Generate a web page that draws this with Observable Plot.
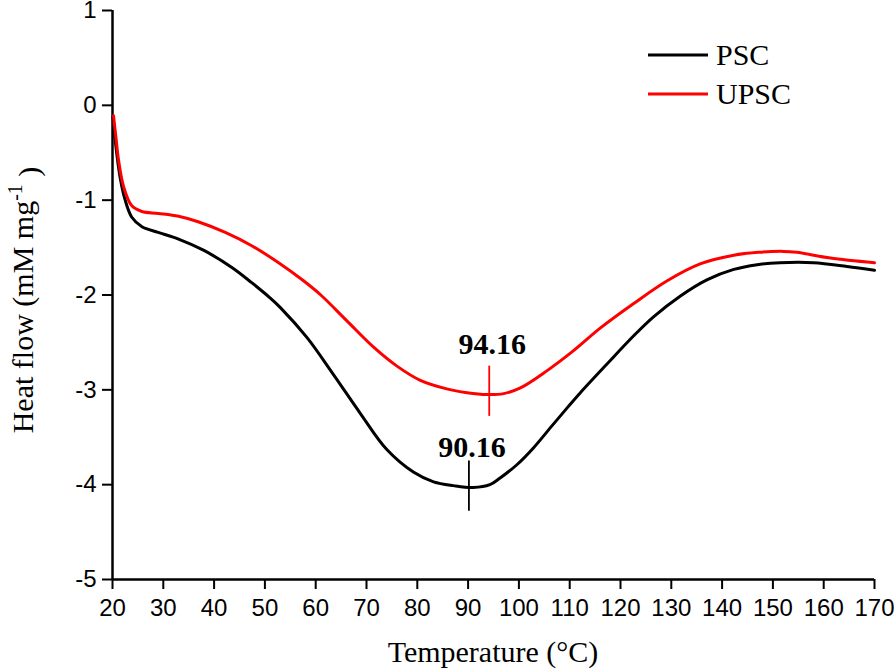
<!DOCTYPE html>
<html>
<head>
<meta charset="utf-8">
<script src="https://cdn.jsdelivr.net/npm/d3@7"></script>
<script src="https://cdn.jsdelivr.net/npm/@observablehq/plot@0.6"></script>
<style>
  html, body { margin: 0; padding: 0; background: #fff; }
  #chart { width: 894px; height: 670px; }
</style>
</head>
<body>
<div id="chart"></div>
<script>
// ---- Data ----
const xTicks = [20, 30, 40, 50, 60, 70, 80, 90, 100, 110, 120, 130, 140, 150, 160, 170];
const yTicks = [1, 0, -1, -2, -3, -4, -5];

const seriesNames = ["PSC", "UPSC"];
const seriesColors = ["#000000", "#ff0000"];

const pscTemp = [20.1, 20.6, 21.5, 22.5, 23.8, 25.8, 29, 33, 38, 43.5, 47.4, 51, 53, 58.3, 63.5, 68.8, 74, 79.3, 83.2, 87.1, 91, 94.3, 96.3, 99.6, 102.9, 106.5, 109.5, 112.1, 117.3, 122.6, 126.5, 131.8, 137, 142.3, 146.9, 151.4, 158, 164.6, 170];
const pscFlow = [-0.12, -0.4, -0.76, -1.0, -1.18, -1.28, -1.34, -1.41, -1.53, -1.71, -1.87, -2.03, -2.13, -2.45, -2.84, -3.25, -3.63, -3.87, -3.97, -4.01, -4.03, -4.0, -3.93, -3.79, -3.61, -3.38, -3.19, -3.03, -2.73, -2.43, -2.23, -2.01, -1.84, -1.73, -1.68, -1.66, -1.66, -1.70, -1.74];

const upscTemp = [20.2, 20.7, 21.2, 22.2, 23.8, 25.8, 29, 33, 37, 42.2, 47.4, 52.7, 57.6, 61, 66.1, 71.4, 76, 80.6, 85.8, 89.8, 93.7, 97, 100.3, 105.5, 110.7, 116, 122.6, 129.2, 135.8, 142.3, 147.2, 152.1, 154.7, 161.3, 170];
const upscFlow = [-0.11, -0.35, -0.58, -0.86, -1.06, -1.12, -1.14, -1.17, -1.23, -1.34, -1.48, -1.66, -1.85, -2.0, -2.27, -2.55, -2.75, -2.90, -2.99, -3.03, -3.05, -3.04, -2.98, -2.80, -2.59, -2.35, -2.09, -1.85, -1.67, -1.58, -1.55, -1.54, -1.55, -1.61, -1.66];

// peak annotations
const peakTemps = [90.16, 94.16];
const peakLabels = ["90.16", "94.16"];
const peakTop = [-3.75, -2.75];
const peakBottom = [-4.28, -3.28];
const peakLabelY = [-3.61, -2.52];

// ---- Build tables ----
const psc = pscTemp.map((t, i) => ({T: t, V: pscFlow[i]}));
const upsc = upscTemp.map((t, i) => ({T: t, V: upscFlow[i]}));
const peaks = peakTemps.map((t, i) => ({T: t, label: peakLabels[i], y1: peakTop[i], y2: peakBottom[i], ly: peakLabelY[i], color: seriesColors[i]}));

const serif = "'Liberation Serif', 'Times New Roman', serif";

const svg = Plot.plot({
  width: 894,
  height: 670,
  marginLeft: 112,
  marginRight: 20,
  marginTop: 10,
  marginBottom: 91,
  style: {fontFamily: "'Liberation Sans', Arial, sans-serif", background: "#fff", color: "#000", overflow: "visible"},
  x: {domain: [20, 170]},
  y: {domain: [-5, 1]},
  marks: [
    Plot.axisX({ticks: xTicks, tickSize: 10, tickPadding: 9, fontSize: 24, strokeWidth: 2, label: null, tickFormat: d => `${d}`}),
    Plot.axisY({ticks: yTicks, tickSize: 10, tickPadding: 6, fontSize: 24, strokeWidth: 2, label: null, tickFormat: d => `${d}`}),
    Plot.ruleX([20], {stroke: "#000", strokeWidth: 2.5}),
    Plot.ruleY([-5], {stroke: "#000", strokeWidth: 2.5}),
    Plot.line(psc, {x: "T", y: "V", stroke: seriesColors[0], strokeWidth: 3, curve: "catmull-rom"}),
    Plot.line(upsc, {x: "T", y: "V", stroke: seriesColors[1], strokeWidth: 3, curve: "catmull-rom"}),
    Plot.ruleX(peaks, {x: "T", y1: "y1", y2: "y2", stroke: "color", strokeWidth: 1.8}),
    Plot.text(peaks, {x: "T", y: "ly", text: "label", dx: 3, fontSize: 30, fontWeight: "bold", fontFamily: serif, fill: "#000"})
  ]
});

const root = d3.select(svg);

// Axis titles
root.append("text")
  .attr("x", 493).attr("y", 662)
  .attr("text-anchor", "middle")
  .attr("font-family", serif).attr("font-size", 30).attr("fill", "#000")
  .text("Temperature (°C)");

const yl = root.append("text")
  .attr("transform", "translate(33,300) rotate(-90)")
  .attr("text-anchor", "middle")
  .attr("font-family", serif).attr("font-size", 30).attr("fill", "#000");
yl.append("tspan").text("Heat flow (mM mg");
yl.append("tspan").attr("dy", "-0.55em").attr("font-size", 20).text("-1");
yl.append("tspan").attr("dy", "0.55em").text(" )");

// Legend
const lg = root.append("g").attr("text-anchor", "start");
seriesNames.forEach((name, i) => {
  const y = 55 + i * 39;
  lg.append("line").attr("x1", 648).attr("x2", 708).attr("y1", y).attr("y2", y)
    .attr("stroke", seriesColors[i]).attr("stroke-width", 3);
  lg.append("text").attr("x", 716).attr("y", y + 10)
    .attr("text-anchor", "start")
    .attr("font-family", serif).attr("font-size", 30).attr("fill", "#000")
    .text(name);
});

document.getElementById("chart").appendChild(svg);
</script>
</body>
</html>
